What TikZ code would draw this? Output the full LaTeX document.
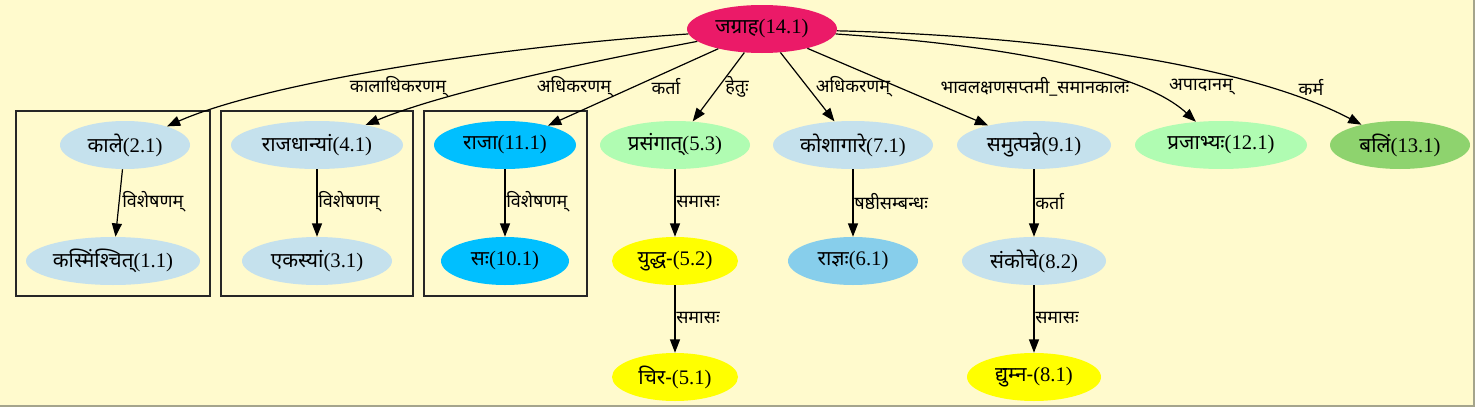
\documentclass[tikz,border=0pt]{standalone}
\usepackage{fontspec}
\setmainfont{Liberation Serif}
\newfontfamily\dv[Script=Devanagari]{Noto Sans}
\usetikzlibrary{arrows.meta,shapes.geometric}
\definecolor{bg}{HTML}{FFFACD}
\definecolor{cpink}{HTML}{EB1A68}
\definecolor{clblue}{HTML}{C5E1ED}
\definecolor{csky}{HTML}{87CEEB}
\definecolor{cdeep}{HTML}{00BFFF}
\definecolor{clgreen}{HTML}{B0FCB2}
\definecolor{cgreen}{HTML}{8ED36E}
\definecolor{cyel}{HTML}{FFFF00}
\definecolor{cframe}{HTML}{A4A48C}
\begin{document}
\begin{tikzpicture}[x=0.75pt,y=-0.75pt,
  nd/.style={ellipse, inner sep=0pt, minimum height=36pt, font=\fontsize{15.5}{18}\selectfont},
  lab/.style={inner sep=0pt, font=\fontsize{13.5}{16}\dv},
  ed/.style={line width=0.9pt, -{Triangle[length=10pt,width=7.5pt]}},
  clus/.style={draw=black!85, line width=0.9pt}]
\useasboundingbox (0,0) rectangle (1475,407);
\fill[bg] (0,0) rectangle (1475,407);
\draw[cframe, line width=1.5pt] (0,405.8) -- (1474.2,405.8) -- (1474.2,0);
% clusters
\draw[clus] (16,111) rectangle (210,296);
\draw[clus] (221,111) rectangle (413,296);
\draw[clus] (424,111) rectangle (587,296);
% nodes
\node[nd, fill=cpink, minimum width=112.5pt] (n14) at (762,29) {{\dv जग्राह}(14.1)};
\node[nd, fill=clblue, minimum width=97.5pt] (n2) at (125,145) {{\dv काले}(2.1)};
\node[nd, fill=clblue, minimum width=130.5pt] (n1) at (113,261) {{\dv कस्मिंश्चित्}(1.1)};
\node[nd, fill=clblue, minimum width=129pt] (n4) at (317,145) {{\dv राजधान्यां}(4.1)};
\node[nd, fill=clblue, minimum width=112.5pt] (n3) at (317,261) {{\dv एकस्यां}(3.1)};
\node[nd, fill=cdeep, minimum width=106.5pt] (n11) at (505,145) {{\dv राजा}(11.1)};
\node[nd, fill=cdeep, minimum width=96pt] (n10) at (505,261) {{\dv सः}(10.1)};
\node[nd, fill=clgreen, minimum width=112.5pt] (n53) at (675,145) {{\dv प्रसंगात्}(5.3)};
\node[nd, fill=cyel, minimum width=94.5pt] (n52) at (675,261) {{\dv युद्ध-}(5.2)};
\node[nd, fill=cyel, minimum width=94.5pt] (n51) at (675,377) {{\dv चिर-}(5.1)};
\node[nd, fill=clblue, minimum width=120pt] (n7) at (853,145) {{\dv कोशागारे}(7.1)};
\node[nd, fill=csky, minimum width=97.5pt] (n6) at (853,261) {{\dv राज्ञः}(6.1)};
\node[nd, fill=clblue, minimum width=115.5pt] (n9) at (1034,145) {{\dv समुत्पन्ने}(9.1)};
\node[nd, fill=clblue, minimum width=108pt] (n82) at (1034,261) {{\dv संकोचे}(8.2)};
\node[nd, fill=cyel, minimum width=100.5pt] (n81) at (1034,377) {{\dv द्युम्न-}(8.1)};
\node[nd, fill=clgreen, minimum width=129pt] (n12) at (1221,145) {{\dv प्रजाभ्यः}(12.1)};
\node[nd, fill=cgreen, minimum width=105pt] (n13) at (1400,145) {{\dv बलिं}(13.1)};
% edges
\draw[ed] (n14) .. controls (480,48) and (260,85) .. (n2);
\draw[ed] (n14) .. controls (600,60) and (450,90) .. (n4);
\draw[ed] (n14) -- (n11);
\draw[ed] (n14) -- (n53);
\draw[ed] (n14) -- (n7);
\draw[ed] (n14) -- (n9);
\draw[ed] (n14) .. controls (1000,45) and (1140,70) .. (n12);
\draw[ed] (n14) .. controls (1050,36) and (1250,66) .. (n13);
\draw[ed] (n2) -- (n1);
\draw[ed] (n4) -- (n3);
\draw[ed] (n11) -- (n10);
\draw[ed] (n53) -- (n52);
\draw[ed] (n52) -- (n51);
\draw[ed] (n7) -- (n6);
\draw[ed] (n9) -- (n82);
\draw[ed] (n82) -- (n81);
% edge labels
\node[lab] (l1) at (398,87) {कालाधिकरणम्};
\node[lab] (l2) at (574,87) {अधिकरणम्};
\node[lab] (l3) at (666,87) {कर्ता};
\node[lab] (l4) at (737,87) {हेतुः};
\node[lab] (l5) at (853,87) {अधिकरणम्};
\node[lab] (l6) at (1035,87) {भावलक्षणसप्तमी\_समानकालः};
\node[lab] (l7) at (1201,87) {अपादानम्};
\node[lab] (l8) at (1311,87) {कर्म};
\node[lab, anchor=west] (l9) at (122,202) {विशेषणम्};
\node[lab, anchor=west] (l10) at (318,202) {विशेषणम्};
\node[lab, anchor=west] (l11) at (506,202) {विशेषणम्};
\node[lab, anchor=west] (l12) at (676,202) {समासः};
\node[lab, anchor=west] (l13) at (854,202) {षष्ठीसम्बन्धः};
\node[lab, anchor=west] (l14) at (1035,202) {कर्ता};
\node[lab, anchor=west] (l15) at (676,318) {समासः};
\node[lab, anchor=west] (l16) at (1035,318) {समासः};
\end{tikzpicture}
\end{document}
